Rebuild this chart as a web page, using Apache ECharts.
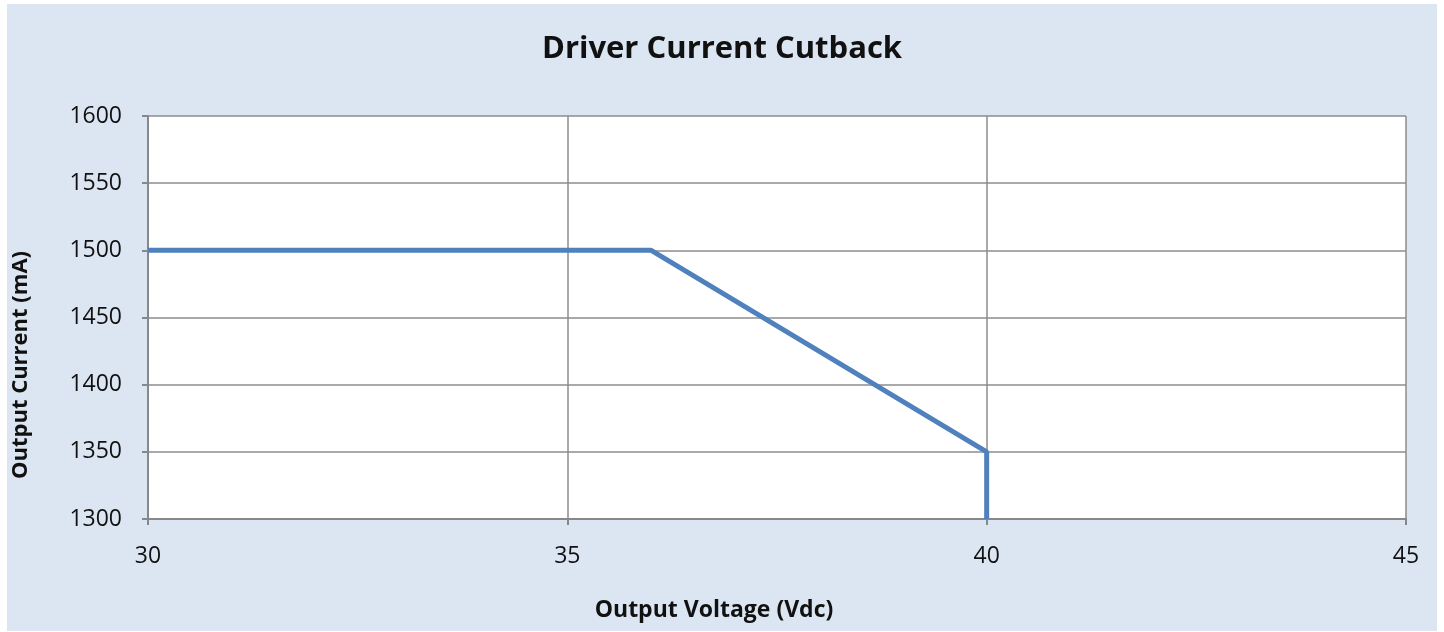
<!DOCTYPE html>
<html>
<head>
<meta charset="utf-8">
<script src="https://cdn.jsdelivr.net/npm/echarts@6/dist/echarts.min.js"></script>
<style>
html,body{margin:0;padding:0;background:#fff;}
#c{width:1444px;height:632px;}
</style>
</head>
<body>
<div id="c"></div>
<script>
const titleText = 'Driver Current Cutback';
const xAxisName = 'Output Voltage (Vdc)';
const yAxisName = 'Output Current (mA)';
const voltage = [30, 36, 40, 40];
const current = [1500, 1500, 1350, 1300];

const chart = echarts.init(document.getElementById('c'));
const font = '"Open Sans", "Liberation Sans", sans-serif';
chart.setOption({
  animation: false,
  backgroundColor: 'transparent',
  graphic: [{
    type: 'rect', z: -10, silent: true,
    shape: {x: 7, y: 4, width: 1430, height: 627},
    style: {fill: '#dce6f2'}
  }, {
    type: 'text', silent: true,
    x: 21, y: 365, rotation: Math.PI / 2,
    style: {
      text: yAxisName, fontFamily: font, fontSize: 22, fontWeight: 'bold',
      fill: '#111', align: 'center', verticalAlign: 'middle'
    }
  }, {
    type: 'text', silent: true,
    x: 714, y: 610,
    style: {
      text: xAxisName, fontFamily: font, fontSize: 23, fontWeight: 'bold',
      fill: '#111', align: 'center', verticalAlign: 'middle'
    }
  }],
  title: {
    text: titleText, left: 'center', top: 29,
    textStyle: {fontFamily: font, fontSize: 31, fontWeight: 'bold', color: '#111'}
  },
  grid: {left: 148, right: 38, top: 116, bottom: 113, show: true, backgroundColor: '#fff', borderWidth: 0},
  xAxis: {
    type: 'value', min: 30, max: 45, interval: 5,
    axisLine: {show: true, lineStyle: {color: '#888', width: 2}},
    axisTick: {show: true, length: 6, lineStyle: {color: '#888', width: 2}},
    axisLabel: {fontFamily: font, fontSize: 23, color: '#111', margin: 26},
    splitLine: {show: true, lineStyle: {color: '#8c8c8c', width: 1.5}}
  },
  yAxis: {
    type: 'value', min: 1300, max: 1600, interval: 50,
    axisLine: {show: true, lineStyle: {color: '#888', width: 2}},
    axisTick: {show: true, length: 6, lineStyle: {color: '#888', width: 2}},
    axisLabel: {fontFamily: font, fontSize: 23, color: '#111', margin: 26, formatter: v => String(v)},
    splitLine: {show: true, lineStyle: {color: '#8c8c8c', width: 1.5}}
  },
  series: [{
    type: 'line',
    data: voltage.map((v, i) => [v, current[i]]),
    showSymbol: false, symbol: 'none',
    lineStyle: {color: '#4f81bd', width: 5},
    itemStyle: {color: '#4f81bd'}
  }]
});
</script>
</body>
</html>
